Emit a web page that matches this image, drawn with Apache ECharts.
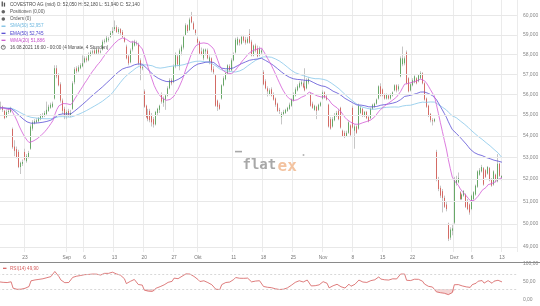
<!DOCTYPE html>
<html><head><meta charset="utf-8">
<script src="https://cdn.jsdelivr.net/npm/echarts@6/dist/echarts.min.js"></script>
<style>html,body{margin:0;padding:0;background:#fff}#c{width:540px;height:306px}</style>
</head><body><div id="c"></div>
<script>
// ---- data (4-hour candles, COVESTRO AG mid) ----
const open = [
55100,55350,55400,55200,54900,55150,55150,54330,53500,53380,
53250,52550,52700,53250,52820,53000,53400,54350,54600,54650,
54700,54800,54900,54950,55050,55200,55350,55400,55800,57300,
56950,56500,55700,55300,54950,55200,55000,55300,56600,57300,
57150,57300,57400,57600,57800,57700,57950,58100,58200,58050,
58250,58100,58250,58650,58650,58750,58900,59100,59300,59400,
59150,59300,59150,58850,58400,57900,57600,58250,58450,58550,
58500,57700,57300,56150,55450,55000,55200,55000,54800,54550,
55100,55250,56000,55600,55750,55950,56300,56700,56600,57400,
57900,57400,58150,58350,59000,59500,59250,59950,59600,59250,
58800,58650,58150,57800,58150,58200,57650,57800,57250,56950,
55700,55500,55800,56450,56750,57050,57400,57200,57700,58100,
58500,58750,58550,58900,58750,58600,59050,58650,57950,58450,
58300,57950,58100,57100,56650,56300,56000,56250,56000,55800,
55550,55250,54900,55050,55100,55200,55300,55450,55700,55950,
56200,56350,56500,56550,56400,56300,56600,56000,55550,55250,
55400,55250,55450,55800,56100,55900,55500,54800,54450,54750,
54950,55200,55350,54250,54150,54000,54150,54500,55350,54250,
54450,54350,55100,55300,54950,55150,54900,54850,55300,55400,
55550,55800,56400,56250,56000,55800,55950,55800,55950,56200,
56450,56250,56900,57500,57550,58100,56800,56200,56450,56600,
56800,56650,56800,57050,56550,55800,55450,55050,54750,54700,
53250,52000,51600,51450,51150,50850,50000,49400,49700,50050,
51800,51850,51400,51100,51250,51300,51000,50850,50650,51100,
51300,51650,52200,52350,52500,52400,52250,52500,52000,51750,
52200,51900,52700,52050];
const close = [
55350,55400,55250,54850,55150,55200,55300,53470,53300,53000,
52550,52750,52780,52900,53050,53200,54450,54650,54700,54750,
54850,54950,55000,55100,55250,55400,55500,55550,57300,56900,
56450,55700,55200,54950,55150,55000,55100,56550,57250,57150,
57350,57450,57550,57800,57700,58000,58100,58150,58050,58250,
58100,58150,58650,58700,58850,58800,59100,59200,59400,59150,
59300,59100,58900,58650,57800,57550,58200,58600,58650,58600,
57550,57300,57350,55400,54900,54800,54750,54650,54550,55150,
55300,55450,55650,55800,55950,56300,56700,56550,57400,58000,
57500,58200,58400,58900,59500,59200,59800,59650,59300,59100,
58600,58050,58000,58250,58250,57800,57850,57200,57100,55450,
55400,55300,56450,56800,57050,57450,57200,57700,58000,58750,
58800,58600,58900,58700,58600,58800,58600,57950,58450,58200,
57900,58300,58200,56500,56300,56150,56200,55950,55750,55500,
55200,55200,55050,55150,55250,55350,55500,55750,56000,56250,
56400,56550,56600,56350,56200,56700,56750,55450,55350,55450,
55200,55500,55600,56100,55850,55750,54450,54350,54800,55000,
55100,54800,54400,54000,53950,54150,54650,54050,54400,54450,
54150,55450,55350,54950,55150,54850,54700,55300,55500,55550,
55750,56400,55950,55950,55800,56000,55800,56000,56100,56450,
56200,56400,57800,57800,57800,56550,56150,56500,56700,56900,
56550,56950,57050,56550,55750,55400,54950,54750,54700,54800,
52000,51550,51250,51150,50750,50650,49350,49750,49800,52000,
52000,52050,51100,51300,51450,50750,50650,50500,51250,51400,
51700,52350,52400,52550,51750,52100,52550,51950,51700,52350,
51950,52700,52150,52140];
const low = [
55000,55250,55150,54800,54850,55050,55100,53400,53050,52950,
52500,52230,52600,52850,52750,52950,53350,54250,54550,54600,
54650,54750,54850,54900,55000,55150,55300,55350,55750,56800,
56400,55600,55050,54800,54800,54900,54900,55250,56500,57050,
57100,57250,57350,57550,57600,57650,57900,58000,58000,58000,
58000,58050,58200,58550,58600,58650,58850,59000,59200,59100,
59050,59000,58850,58600,57750,57450,57550,58150,58400,58450,
57450,56700,57200,55350,54850,54700,54650,54450,54400,54500,
55000,55100,55550,55400,55250,55900,56250,56450,56550,57300,
57400,57200,57950,58250,58950,59100,59200,59600,59250,58950,
58500,58000,57950,57700,57950,57750,57500,57100,57000,55400,
55200,55250,55750,56400,56700,57000,57100,57150,57650,58050,
58450,58450,58500,58600,58500,58550,58550,57900,57900,58100,
57850,57900,58000,56450,56250,55900,55950,55900,55700,55400,
55150,55050,54550,55000,55050,55150,55250,55400,55650,55900,
56150,56300,56400,56300,56150,56250,56500,55400,55300,55200,
54800,55200,55400,55750,55800,55700,54400,54300,54400,54700,
54900,54750,54350,53950,53900,53950,54100,54000,54350,53400,
54100,54300,55050,54900,54900,54800,54650,54800,55250,55350,
55500,55750,55900,55900,55750,55750,55750,55750,55900,56150,
56100,56150,56850,57400,57450,56500,56100,56150,56400,56550,
56500,56600,56750,56500,55700,55350,54900,54650,54500,54650,
51900,51450,51150,50500,50700,50550,49250,49300,49500,49950,
51700,51800,51050,51050,51200,50700,50600,50400,50600,51050,
51250,51600,52150,52300,51700,52050,52200,51900,51650,51700,
51850,51850,52100,51940];
const high = [
55450,55650,55450,55250,55250,55300,55400,54400,53800,53500,
53350,52800,52900,53400,53150,53300,54550,54750,54800,54850,
54900,55050,55100,55200,55650,55500,55600,55650,57450,57450,
57050,56600,55800,55400,55250,55300,55250,56650,57350,57400,
57450,57550,57950,57900,57900,58100,58200,58250,58300,58350,
58300,58250,58750,58800,58950,58900,59200,59400,59750,59500,
59400,59350,59250,58900,58500,58000,58300,58700,58750,58700,
58600,57800,57450,56250,55500,55300,55300,55100,54900,55200,
55350,55500,56100,55900,56000,56400,56800,56800,57500,58100,
58000,58300,58500,59000,59600,59550,59900,60200,59700,59300,
58900,58700,58350,58300,58300,58300,57950,57850,57400,57000,
55750,55600,56500,56900,57100,57500,57500,57800,58100,58850,
58900,58800,59000,59000,58900,58900,59300,58750,58500,58550,
58450,58400,58300,57200,56750,56400,56300,56350,56100,55850,
55600,55350,55150,55250,55300,55400,55600,55800,56100,56350,
56500,56650,56700,56650,57300,56800,56850,56100,55650,55500,
55450,55550,55650,56200,56150,56000,55550,54900,54900,55100,
55200,55300,55400,54300,54250,54250,54700,54550,55450,54550,
54500,55550,55450,55350,55200,55200,55000,55350,55550,55600,
55800,56450,56550,56300,56050,56050,56000,56050,56150,56500,
56500,56500,57900,58400,57900,58200,56850,56550,56800,56950,
56850,57000,57150,57100,56600,55850,55500,55100,54850,54850,
53350,52100,51700,51550,51250,51000,50050,49850,50000,52100,
52150,52300,51450,51350,51500,51350,51100,50900,51300,51450,
51750,52400,52500,52650,52550,52450,52600,52550,52050,52400,
52250,53150,52750,52180];

const tickLabels = [
  ['2021-08-23','23'],['2021-09-01','Sep'],['2021-09-06','6'],['2021-09-13','13'],
  ['2021-09-20','20'],['2021-09-27','27'],['2021-10-01','Okt'],['2021-10-11','11'],
  ['2021-10-18','18'],['2021-10-25','25'],['2021-11-01','Nov'],['2021-11-08','8'],
  ['2021-11-15','15'],['2021-11-22','22'],['2021-12-01','Dez'],['2021-12-06','6'],
  ['2021-12-13','13']];
const priceTicks = [49000,50000,51000,52000,53000,54000,55000,56000,57000,58000,59000,60000];
const lastPrice = 52140;
const rsiLevels = [30, 70];
const headerLines = [
  'COVESTRO AG (mid) O: 52,050 H: 52,180 L: 51,940 C: 52,140',
  'Positionen (0,00)',
  'Orders (0)',
  'SMA(50) 52,957',
  'EMA(50) 52,745',
  'WMA(20) 51,886',
  '16.08.2021 16:00 - 00:00 (4 Monate, 4 Stunden)'];
const rsiTitle = 'RSI(14) 49,90';

// ---- categories (trading days, 3 four-hour bars per day) ----
const allCats = [];
for (let t = Date.UTC(2021,7,16); t <= Date.UTC(2021,11,17); t += 86400000) {
  const d = new Date(t), wd = d.getUTCDay();
  if (wd === 0 || wd === 6) continue;
  const ds = d.toISOString().slice(0,10);
  ['08:00','12:00','16:00'].forEach(h => allCats.push(ds + ' ' + h));
}
const startIdx = allCats.indexOf('2021-08-16 16:00');
const cats = allCats.slice(startIdx, startIdx + close.length + 7);
const labelMap = {};
tickLabels.forEach(([d, t]) => { labelMap[d + ' 08:00'] = t; });
const isTick = (i, v) => labelMap[v] !== undefined;

// ---- indicators derived from closes ----
const pc = i => close[Math.max(i, 0)];
const sma50 = close.map((_, i) => { let s = 0; for (let k = i - 49; k <= i; k++) s += pc(k); return s / 50; });
const ema50 = []; { const a = 2 / 51; let e = close[0]; close.forEach((c, i) => { e = i ? a * c + (1 - a) * e : c; ema50.push(e); }); }
const wma20 = close.map((_, i) => { let s = 0, w = 0; for (let j = 1; j <= 20; j++) { s += j * pc(i - 20 + j); w += j; } return s / w; });
const rsi = [50];
{ let sum = 0; for (let i = 1; i <= 14; i++) sum += Math.abs(close[i] - close[i-1]);
  let ag = sum / 28, al = sum / 28;
  for (let i = 1; i < close.length; i++) { const ch = close[i] - close[i-1];
    ag = (ag * 13 + Math.max(ch, 0)) / 14; al = (al * 13 + Math.max(-ch, 0)) / 14;
    rsi.push(100 - 100 / (1 + ag / al)); } }
const rsiBase = rsi.map(v => Math.min(v, 30));
const rsiFill = rsi.map(v => 30 - Math.min(v, 30));

const fmt = v => String(v).replace(/\B(?=(\d{3})+(?!\d))/g, ',');
const FONT = '"Liberation Sans", Arial, sans-serif';

// ---- graphics (header, separator, watermark) ----
const graphics = [];
const lineY = [4.3, 11.7, 19, 26.2, 33.3, 40.3, 47.3];
const lineColors = ['#4a4a4a','#555','#555','#6db8e0','#4b40cf','#c64fc9','#4a4a4a'];
headerLines.forEach((t, i) => graphics.push({ type:'text', x:10, y:lineY[i], z:10,
  style:{ text:t, fill:lineColors[i], font:'4.6px ' + FONT, verticalAlign:'middle', textVerticalAlign:'middle' } }));
graphics.push({ type:'rect', z:10, shape:{x:1.6, y:1.6, width:1.3, height:5}, style:{fill:'#555'} });
graphics.push({ type:'rect', z:10, shape:{x:3.8, y:2.6, width:1.3, height:4}, style:{fill:'#555'} });
[1,2].forEach(i => graphics.push({ type:'circle', z:10, shape:{cx:3.3, cy:lineY[i], r:1.8}, style:{fill:'#666'} }));
[3,4,5].forEach(i => graphics.push({ type:'line', z:10, shape:{x1:1.5, y1:lineY[i], x2:5.5, y2:lineY[i]}, style:{stroke:lineColors[i], lineWidth:1.2} }));
graphics.push({ type:'circle', z:10, shape:{cx:3.3, cy:lineY[6], r:2}, style:{fill:'none', stroke:'#555', lineWidth:0.8} });
graphics.push({ type:'line', z:10, shape:{x1:3.3, y1:lineY[6]-1.3, x2:3.3, y2:lineY[6]}, style:{stroke:'#555', lineWidth:0.6} });
graphics.push({ type:'line', z:10, shape:{x1:0, y1:262.5, x2:540, y2:262.5}, style:{stroke:'#8a8a8a', lineWidth:1} });
graphics.push({ type:'line', z:10, shape:{x1:3, y1:268.3, x2:6.5, y2:268.3}, style:{stroke:'#d65c5c', lineWidth:1.2} });
graphics.push({ type:'text', x:10, y:268.3, z:10, style:{ text:rsiTitle, fill:'#d65c5c', font:'4.6px ' + FONT, verticalAlign:'middle', textVerticalAlign:'middle' } });
// watermark
graphics.push({ type:'line', z:1, shape:{x1:235, y1:151.6, x2:242, y2:151.6}, style:{stroke:'#a8a8a8', lineWidth:1.6} });
graphics.push({ type:'text', x:242.5, y:158.5, z:1, style:{ text:'flat', fill:'#a8a8a8', font:'bold 14px "DejaVu Sans Mono"', verticalAlign:'alphabetic', textVerticalAlign:'alphabetic' } });
graphics.push({ type:'text', x:277.5, y:158.5, z:1, style:{ text:'ex', fill:'#f3c3a0', font:'bold 16px "DejaVu Sans Mono"', verticalAlign:'alphabetic', textVerticalAlign:'alphabetic' } });
graphics.push({ type:'circle', z:1, shape:{cx:303.5, cy:155, r:1}, style:{fill:'#b5b5b5'} });

const chart = echarts.init(document.getElementById('c'), null, { renderer:'canvas', width:540, height:306 });
chart.setOption({
  animation: false,
  backgroundColor: '#fff',
  grid: [
    { left:-1.8, top:0, width:518.7, height:252, containLabel:false, outerBoundsMode:'none' },
    { left:-1.8, top:263.7, width:518.7, height:36.3, containLabel:false, outerBoundsMode:'none' }
  ],
  xAxis: [
    { type:'category', gridIndex:0, data:cats, boundaryGap:true,
      axisLine:{show:false}, axisTick:{show:false},
      axisLabel:{ interval:0, formatter:v => labelMap[v] || '', fontSize:4.8, color:'#777', margin:3,
        fontFamily:'Liberation Sans' },
      splitLine:{ show:true, interval:isTick, lineStyle:{color:'#ebebeb', width:1} } },
    { type:'category', gridIndex:1, data:cats, boundaryGap:true,
      axisLine:{show:false}, axisTick:{show:false}, axisLabel:{show:false}, splitLine:{show:false} }
  ],
  yAxis: [
    { type:'log', gridIndex:0, logBase:10, min:48781, max:60831, position:'right',
      axisLine:{show:false}, axisTick:{show:false}, axisLabel:{show:false}, splitLine:{show:false} },
    { type:'value', gridIndex:1, min:0, max:100, interval:50, position:'right',
      axisLine:{show:false}, axisTick:{show:false}, splitLine:{show:false},
      axisLabel:{ formatter:v => v.toFixed(2).replace('.', ','), fontSize:5, color:'#888', margin:6, fontFamily:'Liberation Sans' } }
  ],
  graphic: { elements: graphics },
  series: [
    { type:'line', name:'grid', xAxisIndex:0, yAxisIndex:0, z:1, silent:true, symbol:'none',
      data: close.map(() => null), lineStyle:{opacity:0},
      markLine:{ silent:true, symbol:['none','none'], animation:false,
        label:{ position:'end', distance:6, fontSize:5, color:'#888', fontFamily:'Liberation Sans' },
        data: priceTicks.map(v => ({ yAxis:v, lineStyle:{color:'#e8e8e8', width:1, type:'solid'}, label:{formatter:fmt(v)} }))
          .concat([{ yAxis:lastPrice, lineStyle:{opacity:0}, label:{ formatter:fmt(lastPrice), color:'#fff', backgroundColor:'#1a1a1a', padding:[1.5,2,1,2], borderRadius:1.5 } }]) } },
    { type:'candlestick', name:'wick', xAxisIndex:0, yAxisIndex:0, z:2, barWidth:0.4,
      data: open.map((o, i) => [o, close[i], low[i], high[i]]),
      itemStyle:{ color:'#c6c6c6', color0:'#c6c6c6', borderColor:'#c6c6c6', borderColor0:'#c6c6c6', borderWidth:1 } },
    { type:'candlestick', name:'body', xAxisIndex:0, yAxisIndex:0, z:3, barWidth:0.9,
      data: open.map((o, i) => [o, close[i], Math.min(o, close[i]), Math.max(o, close[i])]),
      itemStyle:{ color:'#3f9b3f', color0:'#d8433b', borderColor:'#3f9b3f', borderColor0:'#d8433b', borderWidth:0.7 } },
    { type:'line', name:'SMA(50)', xAxisIndex:0, yAxisIndex:0, z:4, data:sma50, showSymbol:false, symbol:'none',
      lineStyle:{ color:'#86c6ea', width:0.8 } },
    { type:'line', name:'EMA(50)', xAxisIndex:0, yAxisIndex:0, z:4, data:ema50, showSymbol:false, symbol:'none',
      lineStyle:{ color:'#5b4fd6', width:0.8 } },
    { type:'line', name:'WMA(20)', xAxisIndex:0, yAxisIndex:0, z:4, data:wma20, showSymbol:false, symbol:'none',
      lineStyle:{ color:'#d35ad5', width:0.8 } },
    { type:'line', xAxisIndex:1, yAxisIndex:1, data:rsiBase, stack:'os', symbol:'none', silent:true, lineStyle:{opacity:0} },
    { type:'line', xAxisIndex:1, yAxisIndex:1, data:rsiFill, stack:'os', symbol:'none', silent:true, lineStyle:{opacity:0},
      areaStyle:{ color:'rgba(214,92,92,0.35)' } },
    { type:'line', name:'RSI(14)', xAxisIndex:1, yAxisIndex:1, data:rsi, symbol:'none', showSymbol:false,
      lineStyle:{ color:'#d65c5c', width:0.8 },
      markLine:{ silent:true, symbol:['none','none'], animation:false, label:{show:false},
        data: rsiLevels.map(v => ({ yAxis:v, lineStyle:{ color:'#cfcfcf', width:0.8, type:[2,2] } })) } }
  ]
});
</script></body></html>
